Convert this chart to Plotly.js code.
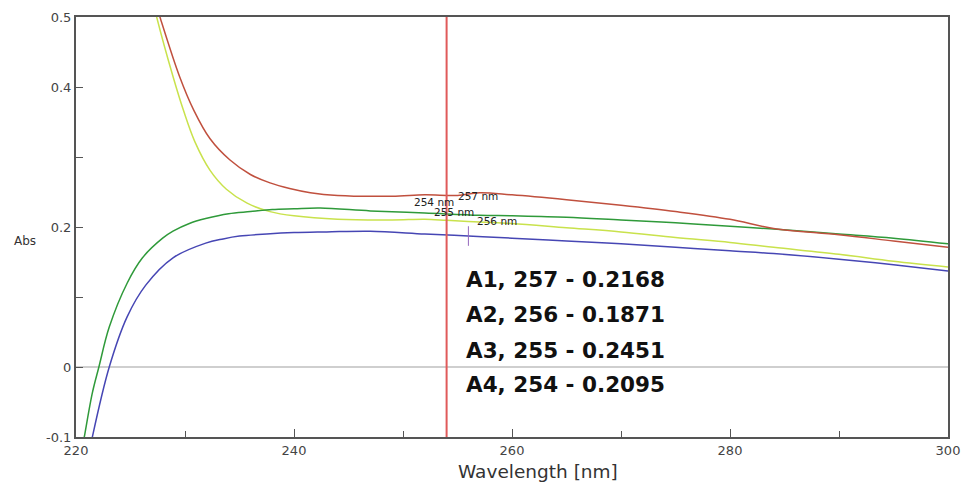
<!DOCTYPE html>
<html>
<head>
<meta charset="utf-8">
<script src="https://cdn.plot.ly/plotly-3.0.1.min.js"></script>
<style>html,body{margin:0;padding:0;background:#fff;}#chart{width:961px;height:483px;}</style>
</head>
<body>
<div id="chart"></div>
<script>
// ---- data ----
const redX   = [227.4, 227.7, 229.5, 230.8, 232.3, 234.1, 236, 237.8, 239.6, 241.5, 244, 249, 252, 255, 257, 260, 265, 270, 275, 280, 284, 290, 295, 300];
const redY   = [0.515, 0.5, 0.415, 0.367, 0.326, 0.296, 0.275, 0.263, 0.255, 0.249, 0.245, 0.244, 0.246, 0.2451, 0.249, 0.246, 0.239, 0.231, 0.222, 0.211, 0.198, 0.189, 0.180, 0.171];

const yelX   = [227.1, 227.4, 228.9, 229.85, 230.9, 232.3, 233.8, 235.7, 237.8, 240, 244, 249, 252, 254, 257, 260, 265, 270, 275, 280, 284, 290, 295, 300];
const yelY   = [0.52, 0.5, 0.415, 0.367, 0.322, 0.281, 0.254, 0.234, 0.222, 0.216, 0.211, 0.210, 0.211, 0.2095, 0.207, 0.205, 0.199, 0.193, 0.185, 0.178, 0.171, 0.161, 0.151, 0.143];

const grnX   = [220.6, 220.76, 221.5, 222.1, 223.05, 224.7, 226.1, 227.95, 228.9, 230.4, 231.9, 234, 236, 238, 240, 242.4, 247, 252, 257, 260, 265, 270, 275, 280, 284, 290, 295, 300];
const grnY   = [-0.113, -0.1, -0.037, 0, 0.057, 0.12, 0.156, 0.184, 0.194, 0.205, 0.212, 0.219, 0.222, 0.225, 0.226, 0.227, 0.223, 0.220, 0.2168, 0.216, 0.214, 0.210, 0.206, 0.201, 0.197, 0.190, 0.184, 0.176];

const bluX   = [221.4, 221.5, 223.05, 224.7, 226.4, 228.9, 231.9, 233.5, 235, 237.5, 240, 243, 247, 252, 256, 260, 265, 270, 275, 280, 284, 290, 295, 300];
const bluY   = [-0.108, -0.1, 0, 0.072, 0.117, 0.156, 0.177, 0.183, 0.187, 0.19, 0.192, 0.193, 0.194, 0.190, 0.1871, 0.184, 0.180, 0.176, 0.171, 0.166, 0.162, 0.154, 0.146, 0.137];

const cursorNm   = 254;
const resNames   = ['A1', 'A2', 'A3', 'A4'];
const resNm      = [257, 256, 255, 254];
const resVal     = ['0.2168', '0.1871', '0.2451', '0.2095'];

const yTickVals  = [-0.1, 0, 0.1, 0.2, 0.3, 0.4, 0.5];
const yTickText  = ['-0.1', '0', '', '0.2', '', '0.4', '0.5'];
const xTickVals  = [220, 240, 260, 280, 300];
const xTickText  = ['220', '240', '260', '280', '300'];

// ---- traces ----
function line(x, y, color) {
  return {x: x, y: y, type: 'scatter', mode: 'lines', line: {color: color, width: 1.5, shape: 'spline', smoothing: 1.0}, hoverinfo: 'skip', showlegend: false};
}
const traces = [
  line(yelX, yelY, '#c9e24c'),
  line(grnX, grnY, '#2f9a3a'),
  line(redX, redY, '#c0503e'),
  line(bluX, bluY, '#4646b4'),
  {x: [resNm[1]], y: [resVal[1] * 1], type: 'scatter', mode: 'markers',
   marker: {symbol: 'line-ns-open', size: 14, line: {color: '#444', width: 1}}, showlegend: false, hoverinfo: 'skip'}
];

// ---- annotations ----
const ann = [];
const rowY = [0.376, 0.292, 0.207, 0.124];
for (let i = 0; i < resNames.length; i++) {
  ann.push({xref: 'paper', yref: 'paper', x: 0.445, y: rowY[i], xanchor: 'left', yanchor: 'middle',
    text: resNames[i] + ', ' + resNm[i] + ' - ' + resVal[i], showarrow: false,
    font: {family: 'DejaVu Sans', size: 21.5, color: '#111', weight: 'bold'}});
}
const smallLbl = [
  {t: resNm[0] + ' nm', x: 254.9, y: 0.245},
  {t: resNm[3] + ' nm', x: 250.8, y: 0.236},
  {t: resNm[2] + ' nm', x: 252.7, y: 0.221},
  {t: resNm[1] + ' nm', x: 256.6, y: 0.209}
];
smallLbl.forEach(s => ann.push({xref: 'x', yref: 'y', x: s.x, y: s.y, xanchor: 'left', yanchor: 'middle',
  text: s.t, showarrow: false, font: {family: 'DejaVu Sans', size: 10.5, color: '#222'}}));
ann.push({xref: 'paper', yref: 'paper', x: -0.058, y: 0.467, xanchor: 'center', yanchor: 'middle',
  text: 'Abs', showarrow: false, font: {family: 'DejaVu Sans', size: 12, color: '#333'}});
ann.push({xref: 'paper', yref: 'paper', x: 0.53, y: -0.081, xanchor: 'center', yanchor: 'middle',
  text: 'Wavelength [nm]', showarrow: false, font: {family: 'DejaVu Sans', size: 18.5, color: '#333'}});

const layout = {
  width: 961, height: 483,
  margin: {l: 76, r: 13, t: 17, b: 46},
  paper_bgcolor: '#fff', plot_bgcolor: '#fff',
  showlegend: false,
  xaxis: {range: [220, 300], tickvals: xTickVals, ticktext: xTickText, ticks: 'inside', ticklen: 8, tickcolor: '#555', tickwidth: 1,
    minor: {tickvals: [230, 250, 270, 290], ticks: 'inside', ticklen: 6, tickcolor: '#555'},
    showline: true, linecolor: '#555', linewidth: 2, mirror: true, showgrid: false, zeroline: false,
    tickfont: {family: 'DejaVu Sans', size: 13, color: '#444'}},
  yaxis: {range: [-0.1, 0.5], tickvals: yTickVals, ticktext: yTickText, ticks: 'inside', ticklen: 7, tickcolor: '#555', tickwidth: 1,
    showline: true, linecolor: '#555', linewidth: 2, mirror: true, showgrid: false,
    zeroline: true, zerolinecolor: '#cfcfcf', zerolinewidth: 2,
    tickfont: {family: 'DejaVu Sans', size: 13, color: '#444'}},
  shapes: [{type: 'line', xref: 'x', yref: 'paper', x0: cursorNm, x1: cursorNm, y0: 0, y1: 1, line: {color: '#e05a5a', width: 2}}],
  annotations: ann
};
Plotly.newPlot('chart', traces, layout, {staticPlot: true, displayModeBar: false});
</script>
</body>
</html>
